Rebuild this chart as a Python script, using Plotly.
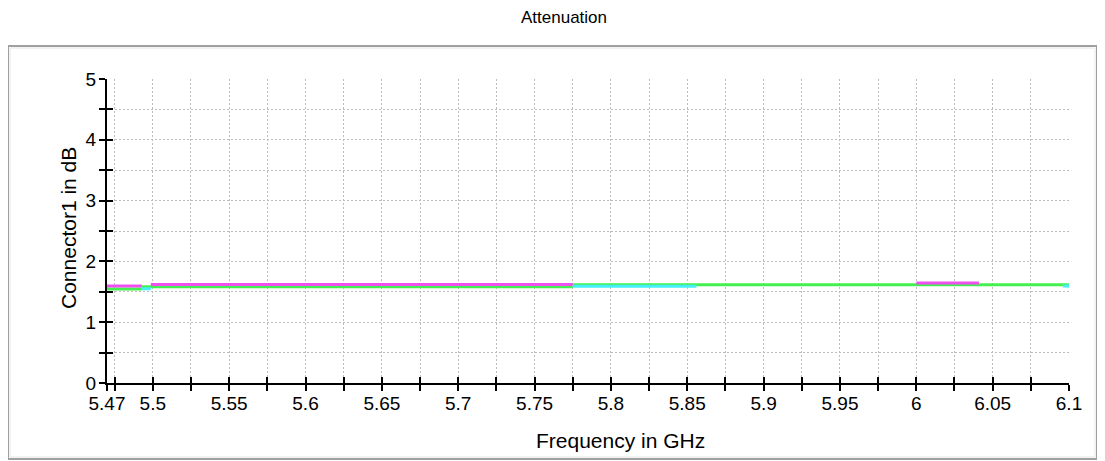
import plotly.graph_objects as go

# ---- data ----
magenta_x = [5.47, 5.4928, None, 5.4987, 5.775, None, 6.0, 6.041]
magenta_y = [1.595, 1.595, None, 1.62, 1.62, None, 1.645, 1.645]

green_x = [5.47, 5.4928, None, 5.4928, 5.775, None, 5.775, 6.1]
green_y = [1.545, 1.545, None, 1.585, 1.585, None, 1.617, 1.617]

cyan_x = [5.4928, 5.4987, None, 5.775, 5.856, None, 6.096, 6.1]
cyan_y = [1.55, 1.55, None, 1.59, 1.59, None, 1.595, 1.595]

x_major = [5.47, 5.5, 5.55, 5.6, 5.65, 5.7, 5.75, 5.8, 5.85, 5.9, 5.95, 6.0, 6.05, 6.1]
x_labels = ["5.47", "5.5", "5.55", "5.6", "5.65", "5.7", "5.75", "5.8", "5.85", "5.9",
            "5.95", "6", "6.05", "6.1"]
x_minor = [round(5.475 + 0.025 * i, 3) for i in range(26)]
y_major = [0, 1, 2, 3, 4, 5]
y_minor = [0.5, 1.5, 2.5, 3.5, 4.5]

FONT = "Liberation Sans, Arial, sans-serif"
GRID = "#bcbcbc"
DASH = "2px,2px"

# page body has an 8px margin: figure origin sits at (8, 8) of the window
OFF = 8
L, T, PW, PH = 107 - OFF, 79 - OFF, 962, 304
W, H = 1105 - OFF, 461 - OFF

fig = go.Figure()
fig.add_trace(go.Scatter(x=green_x, y=green_y, mode="lines",
                         line=dict(color="#44f050", width=3), showlegend=False))
fig.add_trace(go.Scatter(x=cyan_x, y=cyan_y, mode="lines",
                         line=dict(color="#44f0f8", width=3), showlegend=False))
fig.add_trace(go.Scatter(x=magenta_x, y=magenta_y, mode="lines",
                         line=dict(color="#f050f0", width=3), showlegend=False))
fig.add_trace(go.Scatter(x=[5.47], y=[0], xaxis="x2", yaxis="y2", mode="markers",
                         marker=dict(opacity=0), showlegend=False, hoverinfo="skip"))

x_all = sorted(set(x_major + x_minor))
y_all = sorted(y_major + y_minor)

fig.update_layout(
    width=W, height=H,
    margin=dict(l=L, r=W - L - PW, t=T, b=H - T - PH),
    paper_bgcolor="white", plot_bgcolor="white",
    font=dict(family=FONT, color="black", size=19),
    title=dict(text="Attenuation", x=(564 - OFF) / W, xref="container", xanchor="center",
               y=1 - (17 - OFF) / H, yref="container", yanchor="middle",
               font=dict(size=17, family=FONT, color="black")),
    xaxis=dict(range=[5.47, 6.1], tickmode="array", tickvals=x_major, ticktext=x_labels,
               ticks="outside", ticklen=6, tickwidth=2, tickcolor="black",
               ticklabelstandoff=-4,
               showline=True, linecolor="black", linewidth=2,
               showgrid=True, gridcolor=GRID, griddash=DASH, gridwidth=1,
               zeroline=False,
               minor=dict(tickmode="array", tickvals=x_minor, ticks="outside",
                          ticklen=6, tickwidth=2, tickcolor="black",
                          showgrid=True, gridcolor=GRID, griddash=DASH, gridwidth=1),
               tickfont=dict(size=19)),
    yaxis=dict(range=[0, 5], tickmode="array", tickvals=y_major,
               ticks="outside", ticklen=6, tickwidth=2, tickcolor="black",
               ticklabelstandoff=-1,
               showline=True, linecolor="black", linewidth=2,
               showgrid=True, gridcolor=GRID, griddash=DASH, gridwidth=1,
               zeroline=False,
               minor=dict(tickmode="array", tickvals=y_minor, ticks="outside",
                          ticklen=6, tickwidth=2, tickcolor="black",
                          showgrid=True, gridcolor=GRID, griddash=DASH, gridwidth=1),
               tickfont=dict(size=19)),
    xaxis2=dict(range=[5.47, 6.1], overlaying="x", anchor="y2", side="bottom",
                tickmode="array", tickvals=x_all, ticks="inside", ticklen=6,
                tickwidth=2, tickcolor="black", showticklabels=False,
                showgrid=False, zeroline=False, showline=False),
    yaxis2=dict(range=[0, 5], overlaying="y", anchor="x2", side="left",
                tickmode="array", tickvals=y_all, ticks="inside", ticklen=6,
                tickwidth=2, tickcolor="black", showticklabels=False,
                showgrid=False, zeroline=False, showline=False),
)

# axis titles placed where the reference has them
fig.add_annotation(text="Frequency in GHz", xref="paper", yref="paper",
                   x=(620 - 107) / PW, y=(383 - 440) / PH, showarrow=False,
                   xanchor="center", yanchor="middle", font=dict(size=21))
fig.add_annotation(text="Connector1 in dB", xref="paper", yref="paper",
                   x=(68 - 107) / PW, y=(383 - 228) / PH, showarrow=False, textangle=-90,
                   xanchor="center", yanchor="middle", font=dict(size=21))

# outer grey frame around the chart panel (window coords -> paper coords)
def px(x):
    return (x - 107) / PW

def py(y):
    return (383 - y) / PH

fig.add_shape(type="rect", xref="paper", yref="paper",
              x0=px(8), x1=px(1097), y0=py(459), y1=py(46),
              line=dict(color="#a0a0a0", width=2), layer="below")
fig.add_shape(type="rect", xref="paper", yref="paper",
              x0=px(10), x1=px(1095), y0=py(457), y1=py(48),
              line=dict(color="#e6e6e6", width=1), layer="below")

fig.write_html("out.html")
